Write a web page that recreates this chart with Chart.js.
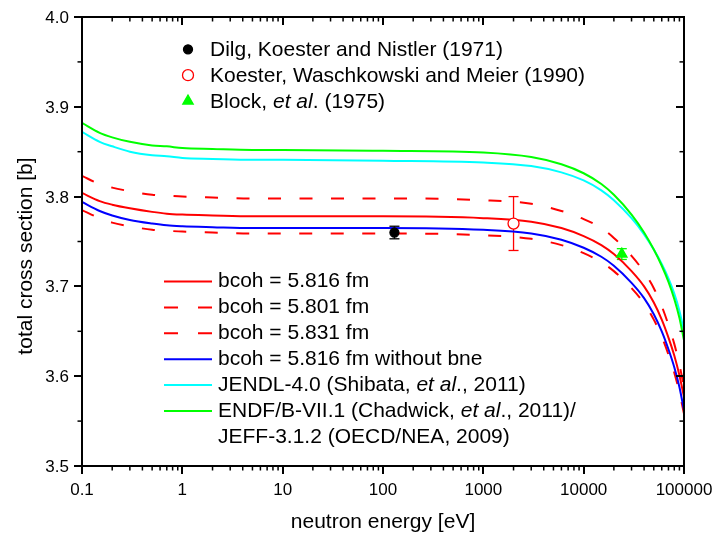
<!DOCTYPE html>
<html>
<head>
<meta charset="utf-8">
<title>Total cross section vs neutron energy</title>
<script src="https://cdn.jsdelivr.net/npm/chart.js@4.4.1/dist/chart.umd.min.js"></script>
<style>
  html, body { margin: 0; padding: 0; background: #fff; }
</style>
</head>
<body>
<canvas id="chart" width="713" height="534"></canvas>
<script>
// energy grid of the calculated curves [eV]
const energies = [0.1, 0.15, 0.2, 0.3, 0.5, 0.7, 1, 2, 5, 10, 100, 1000, 3000, 6000,
  10000, 15000, 20000, 30000, 40000, 50000, 60000, 70000, 80000, 90000, 100000];

// total cross section [b] on that grid
const bcoh5816 = [3.804, 3.795, 3.791, 3.787, 3.783, 3.781, 3.780, 3.779, 3.778, 3.778, 3.778, 3.776, 3.772, 3.765,
  3.756, 3.746, 3.736, 3.717, 3.700, 3.682, 3.663, 3.643, 3.623, 3.601, 3.577];
const bcoh5801 = [3.785, 3.776, 3.771, 3.767, 3.763, 3.762, 3.761, 3.760, 3.759, 3.759, 3.759, 3.757, 3.753, 3.746,
  3.737, 3.727, 3.717, 3.698, 3.681, 3.663, 3.644, 3.624, 3.604, 3.582, 3.558];
const bcoh5831 = [3.823, 3.814, 3.810, 3.806, 3.802, 3.801, 3.800, 3.799, 3.798, 3.798, 3.798, 3.796, 3.792, 3.784,
  3.775, 3.765, 3.754, 3.734, 3.716, 3.698, 3.678, 3.657, 3.636, 3.613, 3.588];
const bcohNoBne = [3.794, 3.784, 3.779, 3.774, 3.770, 3.768, 3.767, 3.766, 3.765, 3.765, 3.765, 3.763, 3.759, 3.752,
  3.743, 3.733, 3.723, 3.704, 3.687, 3.669, 3.650, 3.630, 3.610, 3.588, 3.562];
const jendl40 = [3.872, 3.861, 3.856, 3.850, 3.846, 3.845, 3.843, 3.842, 3.841, 3.841, 3.840, 3.838, 3.834, 3.827,
  3.818, 3.807, 3.796, 3.776, 3.758, 3.741, 3.725, 3.709, 3.692, 3.673, 3.650];
const endfJeff = [3.882, 3.871, 3.866, 3.861, 3.857, 3.856, 3.854, 3.853, 3.852, 3.852, 3.851, 3.849, 3.844, 3.836,
  3.826, 3.814, 3.802, 3.780, 3.760, 3.741, 3.723, 3.705, 3.686, 3.665, 3.640];

// measurements: energy [eV], sigma [b], uncertainty [b]
const dilgE = [130], dilgSigma = [3.760], dilgErr = [0.007];
const koesterE = [2000], koesterSigma = [3.770], koesterErr = [0.030];
const blockE = [24000], blockSigma = [3.736], blockErr = [0.006];

// axis ticks
const xTicks = [0.1, 1, 10, 100, 1000, 10000, 100000];
const xTickLabels = ["0.1", "1", "10", "100", "1000", "10000", "100000"];
const yTicks = [3.5, 3.6, 3.7, 3.8, 3.9, 4.0];
const yTickLabels = ["3.5", "3.6", "3.7", "3.8", "3.9", "4.0"];
const yMinorTicks = [3.55, 3.65, 3.75, 3.85, 3.95];

const FONT = '"Liberation Sans", Arial, sans-serif';

function pts(xs, ys) {
  return xs.map((x, i) => ({ x: x, y: ys[i] }));
}

function curve(label, ys, color, dash, order) {
  return {
    label: label, data: pts(energies, ys), showLine: true,
    borderColor: color, borderWidth: 2, borderDash: dash,
    pointRadius: 0, pointHoverRadius: 0, cubicInterpolationMode: 'monotone',
    fill: false, order: order
  };
}

function marks(label, xs, ys, errs, style, radius, fillColor, color) {
  return {
    label: label, data: pts(xs, ys), errors: errs, showLine: false,
    pointStyle: style, pointRadius: radius, pointBackgroundColor: fillColor,
    pointBorderColor: color, pointBorderWidth: 1.3, borderColor: color, order: -1
  };
}

const DASH = [13, 18.5];

// text between *...* is set in italics
const pointSets = [
  marks("Dilg, Koester and Nistler (1971)", dilgE, dilgSigma, dilgErr, 'circle', 4.5, '#000', '#000'),
  marks("Koester, Waschkowski and Meier (1990)", koesterE, koesterSigma, koesterErr, 'circle', 5.5, '#fff', '#ff0000'),
  marks("Block, *et al*. (1975)", blockE, blockSigma, blockErr, 'triangle', 6, '#00ff00', '#00ff00')
];
const curveSets = [
  curve("bcoh = 5.816 fm", bcoh5816, '#ff0000', [], 2),
  curve("bcoh = 5.801 fm", bcoh5801, '#ff0000', DASH, 5),
  curve("bcoh = 5.831 fm", bcoh5831, '#ff0000', DASH, 4),
  curve("bcoh = 5.816 fm without bne", bcohNoBne, '#0000ff', [], 3),
  curve("JENDL-4.0 (Shibata, *et al*., 2011)", jendl40, '#00ffff', [], 1),
  curve("ENDF/B-VII.1 (Chadwick, *et al*., 2011)/\nJEFF-3.1.2 (OECD/NEA, 2009)", endfJeff, '#00ff00', [], 0)
];

function drawRich(ctx, text, x, y, size) {
  let cx = x;
  text.split('*').forEach((part, i) => {
    ctx.font = (i % 2 ? 'italic ' : '') + size + 'px ' + FONT;
    ctx.fillText(part, cx, y);
    cx += ctx.measureText(part).width;
  });
}

function line(ctx, x1, y1, x2, y2) {
  ctx.beginPath();
  ctx.moveTo(x1, y1);
  ctx.lineTo(x2, y2);
  ctx.stroke();
}

const originAxes = {
  id: 'originAxes',

  // error bars go under the markers
  beforeDatasetsDraw(chart) {
    const ctx = chart.ctx, xs = chart.scales.x, ys = chart.scales.y;
    ctx.save();
    ctx.lineWidth = 1.3;
    pointSets.forEach(ds => {
      ctx.strokeStyle = ds.borderColor;
      ds.data.forEach((p, i) => {
        const px = xs.getPixelForValue(p.x);
        const y1 = ys.getPixelForValue(p.y + ds.errors[i]);
        const y2 = ys.getPixelForValue(p.y - ds.errors[i]);
        line(ctx, px, y1, px, y2);
        line(ctx, px - 5, y1, px + 5, y1);
        line(ctx, px - 5, y2, px + 5, y2);
      });
    });
    ctx.restore();
  },

  afterDraw(chart) {
    const ctx = chart.ctx, xs = chart.scales.x, ys = chart.scales.y;
    const { left, right, top, bottom } = chart.chartArea;
    ctx.save();
    ctx.strokeStyle = '#000';
    ctx.fillStyle = '#000';

    // frame
    ctx.lineWidth = 2;
    ctx.strokeRect(left, top, right - left, bottom - top);

    // x ticks: out at the bottom, in at the top
    xTicks.forEach((t, i) => {
      const px = Math.round(xs.getPixelForValue(t));
      ctx.lineWidth = 2;
      line(ctx, px, bottom, px, bottom + 8);
      line(ctx, px, top, px, top + 8);
      if (i < xTicks.length - 1) {
        ctx.lineWidth = 1.5;
        for (let m = 2; m <= 9; m++) {
          const mx = xs.getPixelForValue(t * m);
          line(ctx, mx, bottom, mx, bottom + 4.5);
          line(ctx, mx, top, mx, top + 4.5);
        }
      }
    });

    // y ticks: out on the left, in on the right
    ctx.lineWidth = 2;
    yTicks.forEach(t => {
      const py = Math.round(ys.getPixelForValue(t));
      line(ctx, left, py, left - 8, py);
      line(ctx, right, py, right - 8, py);
    });
    ctx.lineWidth = 1.5;
    yMinorTicks.forEach(t => {
      const py = ys.getPixelForValue(t);
      line(ctx, left, py, left - 4.5, py);
      line(ctx, right, py, right - 4.5, py);
    });

    // tick labels
    ctx.font = '17px ' + FONT;
    ctx.textBaseline = 'alphabetic';
    ctx.textAlign = 'center';
    xTicks.forEach((t, i) => ctx.fillText(xTickLabels[i], xs.getPixelForValue(t), 495));
    ctx.textAlign = 'right';
    yTicks.forEach((t, i) => ctx.fillText(yTickLabels[i], 69, ys.getPixelForValue(t) + 6));

    // axis titles
    ctx.font = '21px ' + FONT;
    ctx.textAlign = 'center';
    ctx.fillText('neutron energy [eV]', (left + right) / 2, 528);
    ctx.save();
    ctx.translate(31.5, 256);
    ctx.rotate(-Math.PI / 2);
    ctx.fillText('total cross section [b]', 0, 0);
    ctx.restore();

    // legend of the measurements
    ctx.textAlign = 'left';
    const step = 25.9;
    pointSets.forEach((ds, i) => {
      const cy = 49.3 + i * step;
      ctx.fillStyle = ds.pointBackgroundColor;
      ctx.strokeStyle = ds.pointBorderColor;
      ctx.lineWidth = ds.pointBorderWidth;
      Chart.helpers.drawPoint(ctx, { pointStyle: ds.pointStyle, radius: ds.pointRadius, rotation: 0, borderWidth: ds.pointBorderWidth }, 188, cy);
      ctx.fillStyle = '#000';
      drawRich(ctx, ds.label, 210, cy + 6.5, 21);
    });

    // legend of the calculated curves
    let row = 0;
    curveSets.forEach(ds => {
      const cy = 281.5 + row * step;
      ctx.strokeStyle = ds.borderColor;
      ctx.lineWidth = 2;
      ctx.setLineDash(ds.borderDash.length ? [14, 20] : []);
      line(ctx, 164, cy, 212, cy);
      ctx.setLineDash([]);
      ctx.fillStyle = '#000';
      ds.label.split('\n').forEach(txt => {
        drawRich(ctx, txt, 218, 281.5 + row * step + 5.8, 21);
        row++;
      });
    });

    ctx.restore();
  }
};

new Chart(document.getElementById('chart'), {
  type: 'scatter',
  data: { datasets: pointSets.concat(curveSets) },
  options: {
    responsive: false,
    animation: false,
    devicePixelRatio: 1,
    layout: { padding: { left: 82, top: 17, right: 29, bottom: 68 } },
    scales: {
      x: { type: 'logarithmic', min: 0.1, max: 100000, display: false },
      y: { type: 'linear', min: 3.5, max: 4.0, display: false }
    },
    plugins: {
      legend: { display: false },
      tooltip: { enabled: false }
    }
  },
  plugins: [originAxes]
});
</script>
</body>
</html>
